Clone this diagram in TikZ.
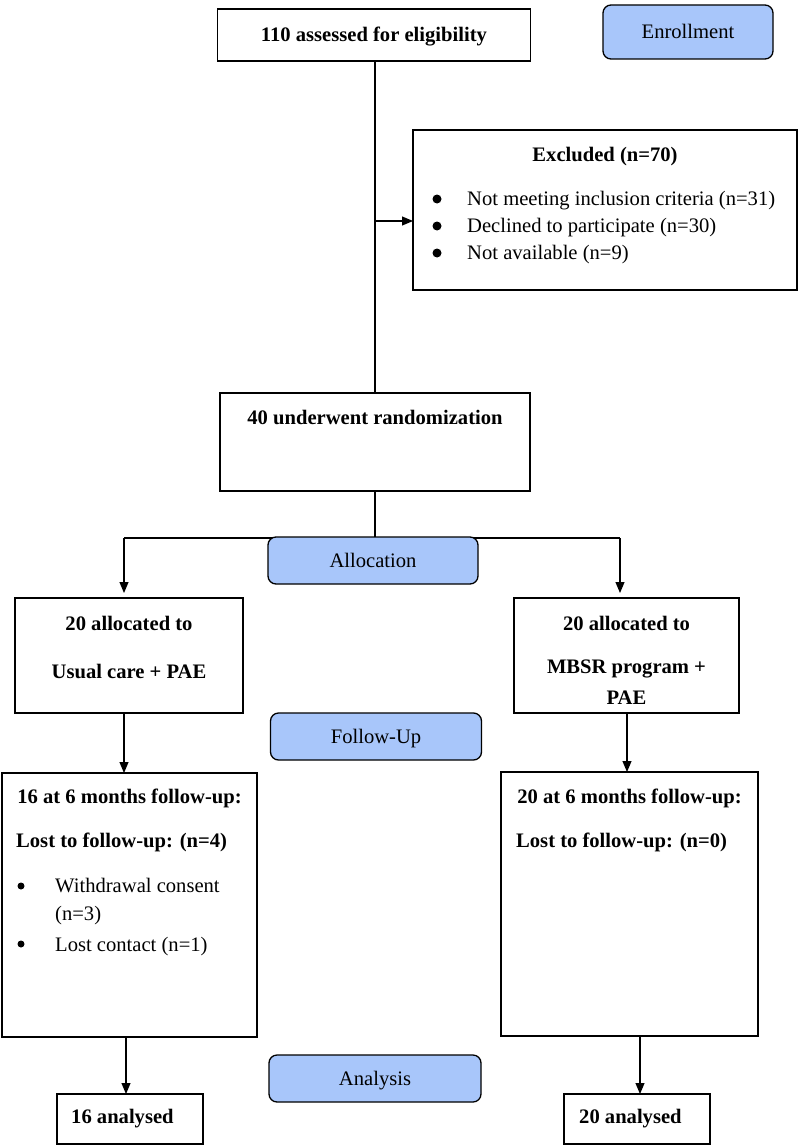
\documentclass[tikz,border=0pt]{standalone}
\usepackage{fontspec}
\setmainfont{Liberation Serif}
\usetikzlibrary{arrows.meta}
\definecolor{phase}{RGB}{168,198,250}
\begin{document}
\fontsize{20.6}{24}\selectfont
\begin{tikzpicture}[x=1pt,y=-1pt,
  box/.style={draw, line width=1.3pt, inner sep=0pt, outer sep=0pt},
  phasebox/.style={draw, line width=1.3pt, fill=phase, rounded corners=8pt, inner sep=0pt, outer sep=0pt},
  conn/.style={line width=1.1pt},
  arr/.style={line width=1.1pt, -{Triangle[length=11pt,width=9pt]}},
  tx/.style={inner sep=0pt, anchor=base},
  txl/.style={inner sep=0pt, anchor=base west},
  bigdot/.style={circle, fill, inner sep=0pt, minimum size=9pt},
  smalldot/.style={circle, fill, inner sep=0pt, minimum size=7pt}
]
\useasboundingbox (0,0) rectangle (800,1145);

% boxes
\node[box, minimum width=313pt, minimum height=52pt] (b110) at (374,35) {};
\node[phasebox, minimum width=170pt, minimum height=54pt] (enr) at (688,32) {};
\node[box, minimum width=384pt, minimum height=160pt] (excl) at (605,210) {};
\node[box, minimum width=310pt, minimum height=98pt] (rand) at (375,442) {};
\node[box, minimum width=228pt, minimum height=115pt] (la) at (129,655.5) {};
\node[box, minimum width=225pt, minimum height=115pt] (ra) at (626.5,655.5) {};
\node[box, minimum width=255pt, minimum height=264pt] (lf) at (129.5,905) {};
\node[box, minimum width=257pt, minimum height=264pt] (rf) at (629.5,904) {};
\node[box, minimum width=146pt, minimum height=50pt] (ln) at (130,1119) {};
\node[box, minimum width=146pt, minimum height=50pt] (rn) at (637,1119) {};

% connectors
\coordinate (jx) at (375,221);
\coordinate (ja) at (375,538);
\coordinate (jl) at (124,538);
\coordinate (jr) at (620,538);
\draw[conn] (b110.south -| rand.north) -- (rand.north);
\draw[arr] (jx) -- (jx -| excl.west);
\draw[conn] (rand.south) -- (ja);
\draw[conn] (jl) -- (jr);
\draw[arr, shorten >=5pt] (jl) -- (jl |- la.north);
\draw[arr, shorten >=5pt] (jr) -- (jr |- ra.north);
\coordinate (cl1) at (124,700);
\coordinate (cr1) at (627,700);
\draw[arr] (la.south -| cl1) -- (lf.north -| cl1);
\draw[arr] (ra.south -| cr1) -- (rf.north -| cr1);
\coordinate (cl2) at (126,1060);
\coordinate (cr2) at (640,1060);
\draw[arr] (lf.south -| cl2) -- (ln.north -| cl2);
\draw[arr] (rf.south -| cr2) -- (rn.north -| cr2);

% phase boxes
\node[phasebox, minimum width=210pt, minimum height=47pt] (alloc) at (373,560.5) {};
\node[phasebox, minimum width=211pt, minimum height=47pt] (fup) at (376,736.5) {};
\node[phasebox, minimum width=212pt, minimum height=47pt] (anal) at (375,1078.5) {};

% texts
\node[tx, font=\bfseries] (t110) at (374,42) {110 assessed for eligibility};
\node[tx] (tenr) at (688,39) {Enrollment};
\node[tx, font=\bfseries] (texcl) at (605,161) {Excluded (n=70)};
\node[bigdot] (d1) at (437,199) {};
\node[bigdot] (d2) at (437,226) {};
\node[bigdot] (d3) at (437,253) {};
\node[txl] (e1) at (467,205) {Not meeting inclusion criteria (n=31)};
\node[txl] (e2) at (467,232) {Declined to participate (n=30)};
\node[txl] (e3) at (467,259) {Not available (n=9)};
\node[tx, font=\bfseries] (trand) at (375,424) {40 underwent randomization};
\node[tx] (talloc) at (373,567) {Allocation};
\node[tx, font=\bfseries] (la1) at (129,630) {20 allocated to};
\node[tx, font=\bfseries] (la2) at (129,678) {Usual care + PAE};
\node[tx, font=\bfseries] (ra1) at (626.5,630) {20 allocated to};
\node[tx, font=\bfseries] (ra2) at (626.5,673) {MBSR program +};
\node[tx, font=\bfseries] (ra3) at (626.5,704) {PAE};
\node[tx] (tfup) at (376,743) {Follow-Up};
\node[tx, font=\bfseries] (lf1) at (129.5,803) {16 at 6 months follow-up:};
\node[txl, font=\bfseries] (lf2) at (16,847) {Lost to follow-up: (n=4)};
\node[smalldot] (d4) at (21,886) {};
\node[txl] (lf3) at (55,892) {Withdrawal consent};
\node[txl] (lf4) at (55,920) {(n=3)};
\node[smalldot] (d5) at (21,944) {};
\node[txl] (lf5) at (55,951) {Lost contact (n=1)};
\node[tx, font=\bfseries] (rf1) at (629.5,803) {20 at 6 months follow-up:};
\node[txl, font=\bfseries] (rf2) at (516,847) {Lost to follow-up: (n=0)};
\node[tx] (tanal) at (375,1085) {Analysis};
\node[txl, font=\bfseries] (ln1) at (71,1123) {16 analysed};
\node[txl, font=\bfseries] (rn1) at (579,1123) {20 analysed};
\end{tikzpicture}
\end{document}
